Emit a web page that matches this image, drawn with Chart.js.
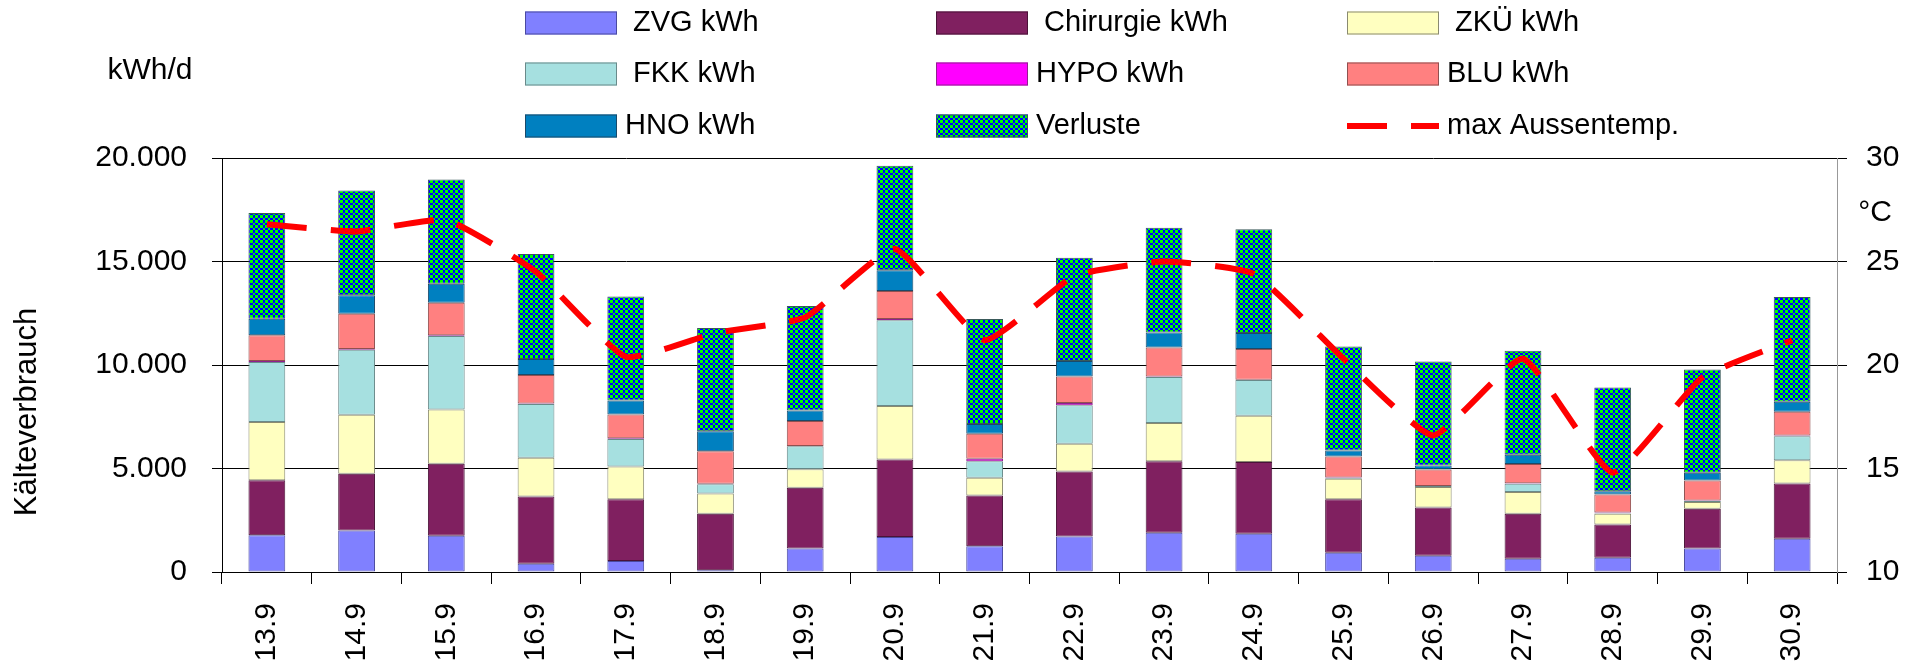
<!DOCTYPE html>
<html lang="de">
<head>
    <meta charset="UTF-8">
    <title>Kälteverbrauch</title>
    <script src="https://cdn.jsdelivr.net/npm/chart.js"></script>
    <style>
        html, body { margin: 0; padding: 0; background: #fff; }
        #chart { display: block; }
    </style>
</head>
<body>
    <canvas id="chart" width="1915" height="668"></canvas>

    <script>
        // categories (day.month)
        const days = ['13.9', '14.9', '15.9', '16.9', '17.9', '18.9', '19.9', '20.9', '21.9',
                      '22.9', '23.9', '24.9', '25.9', '26.9', '27.9', '28.9', '29.9', '30.9'];

        // kWh per day, stacked from bottom to top
        const zvg       = [1770, 2010, 1755, 400, 530, 80, 1130, 1690, 1240, 1720, 1900, 1850, 930, 790, 640, 690, 1130, 1610];
        const chirurgie = [2660, 2740, 3480, 3250, 2980, 2740, 2940, 3750, 2460, 3140, 3445, 3460, 2580, 2320, 2170, 1600, 1930, 2660];
        const zku       = [2820, 2850, 2610, 1870, 1590, 970, 890, 2580, 850, 1340, 1850, 2240, 1000, 1000, 1050, 530, 320, 1130];
        const fkk       = [2900, 3140, 3550, 2600, 1330, 450, 1110, 4140, 805, 1850, 2230, 1720, 30, 40, 400, 20, 50, 1160];
        const hypo      = [40, 30, 40, 20, 30, 20, 20, 60, 110, 110, 20, 20, 20, 0, 30, 40, 30, 40];
        const blu       = [1250, 1710, 1570, 1380, 1150, 1570, 1200, 1360, 1210, 1290, 1400, 1480, 1020, 800, 930, 860, 960, 1140];
        const hno       = [800, 885, 920, 770, 680, 970, 515, 1000, 480, 740, 720, 770, 290, 200, 450, 160, 370, 480];
        const verluste  = [5100, 5070, 5040, 5070, 5020, 4990, 5040, 5040, 5070, 4990, 5070, 5020, 5020, 5020, 5020, 5010, 4990, 5070];

        // max outside temperature in °C (right axis)
        const maxTemp = [26.8, 26.45, 27.0, 24.5, 20.4, 21.55, 22.3, 25.6, 21.2, 24.3, 25.0, 24.4, 20.3, 16.6, 20.3, 14.8, 19.4, 21.2];

        // axis ticks
        const leftTicks = [0, 5000, 10000, 15000, 20000];
        const rightTicks = [10, 15, 20, 25, 30];

        const FONT = '"Liberation Sans", Arial, sans-serif';
        Chart.defaults.font.family = FONT;
        Chart.defaults.color = '#000';

        const canvas = document.getElementById('chart');
        const ctx = canvas.getContext('2d');

        // small green/blue checker used for "Verluste"
        function checkerPattern() {
            const c = document.createElement('canvas');
            c.width = 5; c.height = 5;
            const g = c.getContext('2d');
            g.fillStyle = '#0000FF';
            g.fillRect(0, 0, 5, 5);
            g.fillStyle = '#00FF00';
            g.fillRect(0, 0, 3, 3);
            g.fillRect(3, 3, 2, 2);
            return ctx.createPattern(c, 'repeat');
        }

        function de(v) {
            return String(v).replace(/\B(?=(\d{3})+(?!\d))/g, '.');
        }

        function bar(label, data, bg, border) {
            return {
                label: label,
                data: data,
                backgroundColor: bg,
                borderColor: border,
                borderWidth: 1,
                borderSkipped: false,
                yAxisID: 'y',
                barPercentage: 0.41,
                categoryPercentage: 1
            };
        }

        // legend grid + free texts drawn on the canvas
        const legendCols = [525, 936, 1347];
        const legendRows = [23, 74, 126];
        const extras = {
            id: 'extras',
            afterDraw(chart) {
                const c = chart.ctx;
                c.save();
                chart.data.datasets.forEach((ds, i) => {
                    const x = legendCols[i % 3];
                    const y = legendRows[Math.floor(i / 3)];
                    if (ds.type === 'line') {
                        c.strokeStyle = ds.borderColor;
                        c.lineWidth = ds.borderWidth;
                        c.setLineDash(ds.borderDash);
                        c.beginPath();
                        c.moveTo(x, y);
                        c.lineTo(x + 92, y);
                        c.stroke();
                        c.setLineDash([]);
                    } else {
                        c.fillStyle = ds.backgroundColor;
                        c.fillRect(x, y - 11.5, 92, 23);
                        c.strokeStyle = ds.borderColor;
                        c.lineWidth = 1;
                        c.strokeRect(x + 0.5, y - 11, 91, 22);
                    }
                    c.fillStyle = '#000';
                    c.font = '29px ' + FONT;
                    c.textAlign = 'left';
                    c.textBaseline = 'middle';
                    c.fillText(ds.label, x + 100, y);
                });

                c.font = '30px ' + FONT;
                c.textAlign = 'center';
                c.textBaseline = 'middle';
                c.fillText('kWh/d', 150, 71);
                c.fillText('°C', 1875, 213);

                c.translate(27, 412);
                c.rotate(-Math.PI / 2);
                c.font = '31px ' + FONT;
                c.fillText('Kälteverbrauch', 0, 0);
                c.restore();
            }
        };

        new Chart(ctx, {
            type: 'bar',
            data: {
                labels: days,
                datasets: [
                    bar(' ZVG kWh', zvg, '#8080FF', '#4a4aa0'),
                    bar(' Chirurgie kWh', chirurgie, '#802060', '#4a1238'),
                    bar(' ZKÜ kWh', zku, '#FFFFC0', '#8a8a70'),
                    bar(' FKK kWh', fkk, '#A6E0E0', '#6a8a8a'),
                    bar('HYPO kWh', hypo, '#FF00FF', '#902090'),
                    bar('BLU kWh', blu, '#FF8080', '#905050'),
                    bar('HNO kWh', hno, '#0080C0', '#1a4a6a'),
                    bar('Verluste', verluste, checkerPattern(), '#3a5a5a'),
                    {
                        type: 'line',
                        label: 'max Aussentemp.',
                        data: maxTemp,
                        yAxisID: 'y2',
                        borderColor: '#FF0000',
                        borderWidth: 6,
                        borderDash: [40, 24],
                        pointRadius: 0,
                        tension: 0.15,
                        fill: false,
                        order: -1
                    }
                ]
            },
            options: {
                responsive: false,
                animation: false,
                events: [],
                layout: { padding: { top: 158, left: 0, right: 0, bottom: 0 } },
                plugins: {
                    legend: { display: false },
                    tooltip: { enabled: false }
                },
                scales: {
                    x: {
                        stacked: true,
                        afterFit: s => { s.height = 96; },
                        grid: { drawOnChartArea: false, drawTicks: true, tickLength: 12, color: '#000' },
                        border: { color: '#000', width: 1 },
                        ticks: {
                            autoSkip: false,
                            minRotation: 90,
                            maxRotation: 90,
                            padding: 19,
                            font: { size: 30 }
                        }
                    },
                    y: {
                        stacked: true,
                        position: 'left',
                        min: leftTicks[0],
                        max: leftTicks[leftTicks.length - 1],
                        afterFit: s => { s.width = 222; },
                        afterBuildTicks: s => { s.ticks = leftTicks.map(v => ({ value: v })); },
                        grid: { color: '#000', tickLength: 10 },
                        border: { color: '#000', width: 1 },
                        ticks: {
                            padding: 25,
                            font: { size: 30 },
                            callback: v => de(v)
                        }
                    },
                    y2: {
                        position: 'right',
                        min: rightTicks[0],
                        max: rightTicks[rightTicks.length - 1],
                        afterFit: s => { s.width = 78; },
                        afterBuildTicks: s => { s.ticks = rightTicks.map(v => ({ value: v })); },
                        grid: { drawOnChartArea: false, color: '#000', tickLength: 10 },
                        border: { color: '#999', width: 1 },
                        ticks: {
                            padding: 19,
                            font: { size: 30 }
                        }
                    }
                }
            },
            plugins: [extras]
        });
    </script>
</body>
</html>
